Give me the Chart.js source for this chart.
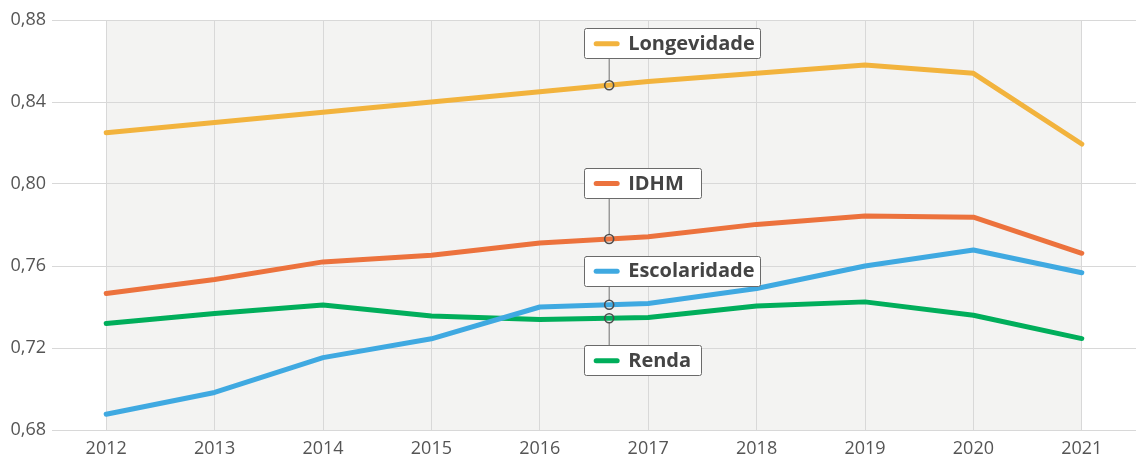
<!DOCTYPE html>
<html lang="pt">
<head>
<meta charset="utf-8">
<script src="https://cdn.jsdelivr.net/npm/chart.js@4/dist/chart.umd.min.js"></script>
<style>
  html, body { margin: 0; padding: 0; background: #fff; }
  #wrap { width: 1136px; height: 456px; position: relative; }
</style>
</head>
<body>
<div id="wrap"><canvas id="idhm"></canvas></div>
<script>
/* ---------- data ---------- */
const years = ['2012', '2013', '2014', '2015', '2016', '2017', '2018', '2019', '2020', '2021'];
const longevidade = [0.825, 0.830, 0.835, 0.840, 0.845, 0.850, 0.854, 0.858, 0.854, 0.8195];
const idhm = [0.7466, 0.7534, 0.762, 0.7652, 0.7712, 0.7743, 0.7803, 0.7844, 0.7838, 0.7662];
const escolaridade = [0.6877, 0.6983, 0.7153, 0.7245, 0.740, 0.7417, 0.749, 0.760, 0.7678, 0.7567];
const renda = [0.7319, 0.7368, 0.741, 0.7356, 0.7339, 0.7349, 0.7405, 0.7425, 0.736, 0.7246];
const yTicks = [0.68, 0.72, 0.76, 0.80, 0.84, 0.88];

/* hover marker sits between 2016 and 2017 */
const markerIndex = 4.64;

const FONT = "'Open Sans', 'Noto Sans', sans-serif";

const series = [
  { label: 'Longevidade', data: longevidade, color: '#f2b33d', boxTop: -57, boxW: 176 },
  { label: 'IDHM', data: idhm, color: '#ec723d', boxTop: -71, boxW: 117 },
  { label: 'Escolaridade', data: escolaridade, color: '#3fa9e1', boxTop: -49, boxW: 176 },
  { label: 'Renda', data: renda, color: '#00ae5b', boxTop: 27, boxW: 117 }
];

/* Plugin: grey band behind the years */
const bandPlugin = {
  id: 'band',
  beforeDraw(chart) {
    const { ctx, chartArea, scales } = chart;
    const x0 = scales.x.getPixelForValue(0);
    const x1 = scales.x.getPixelForValue(years.length - 1);
    ctx.save();
    ctx.fillStyle = '#f3f3f2';
    ctx.fillRect(x0, chartArea.top, x1 - x0, chartArea.bottom - chartArea.top);
    ctx.restore();
  }
};

/* Plugin: tooltip-like labels with markers */
const markerPlugin = {
  id: 'markers',
  afterDatasetsDraw(chart) {
    const { ctx, scales } = chart;
    const i0 = Math.floor(markerIndex), f = markerIndex - i0;
    const xa = scales.x.getPixelForValue(i0), xb = scales.x.getPixelForValue(i0 + 1);
    const px = xa + (xb - xa) * f;
    const boxH = 30;
    ctx.save();
    series.forEach(s => {
      const v = s.data[i0] + (s.data[i0 + 1] - s.data[i0]) * f;
      const py = scales.y.getPixelForValue(v);
      const top = py + s.boxTop;
      const left = px - 25;
      // connector
      ctx.strokeStyle = '#6f6f6f';
      ctx.lineWidth = 1;
      ctx.beginPath();
      if (s.boxTop < 0) { ctx.moveTo(px, top + boxH); ctx.lineTo(px, py - 4.5); }
      else { ctx.moveTo(px, py + 4.5); ctx.lineTo(px, top); }
      ctx.stroke();
      // circle
      ctx.lineWidth = 1.6;
      ctx.strokeStyle = '#4d4d4d';
      ctx.beginPath();
      ctx.arc(px, py, 4.5, 0, Math.PI * 2);
      ctx.stroke();
      // box
      ctx.fillStyle = '#ffffff';
      ctx.strokeStyle = '#6a6a6a';
      ctx.lineWidth = 1;
      ctx.beginPath();
      ctx.roundRect(Math.round(left) + 0.5, Math.round(top) + 0.5, s.boxW, boxH, 2);
      ctx.fill();
      ctx.stroke();
      // swatch
      ctx.strokeStyle = s.color;
      ctx.lineWidth = 5;
      ctx.lineCap = 'round';
      ctx.beginPath();
      ctx.moveTo(left + 12, top + boxH / 2 + 0.5);
      ctx.lineTo(left + 33, top + boxH / 2 + 0.5);
      ctx.stroke();
      // text
      ctx.fillStyle = '#444444';
      ctx.font = "bold 20px " + FONT;
      ctx.textBaseline = 'middle';
      ctx.textAlign = 'left';
      ctx.fillText(s.label, left + 44, top + boxH / 2 + 1);
    });
    ctx.restore();
  }
};

new Chart(document.getElementById('idhm'), {
  type: 'line',
  data: {
    labels: years,
    datasets: series.map(s => ({
      label: s.label,
      data: s.data,
      borderColor: s.color,
      backgroundColor: s.color,
      borderWidth: 5,
      borderCapStyle: 'round',
      borderJoinStyle: 'round',
      pointRadius: 0,
      tension: 0
    }))
  },
  options: {
    responsive: true,
    maintainAspectRatio: false,
    animation: false,
    layout: { padding: { top: 20, right: 0, bottom: 0, left: 0 } },
    plugins: { legend: { display: false }, tooltip: { enabled: false } },
    scales: {
      x: {
        offset: true,
        afterFit: scale => { scale.height = 26; },
        grid: { offset: false, color: '#d8d8d8', drawTicks: false },
        border: { display: false },
        ticks: { color: '#555', padding: 8, font: { family: FONT, size: 18 } }
      },
      y: {
        min: 0.68,
        max: 0.88,
        afterBuildTicks: scale => { scale.ticks = yTicks.map(v => ({ value: v })); },
        afterFit: scale => { scale.width = 52; },
        grid: { color: '#d8d8d8', drawTicks: false },
        border: { display: false },
        ticks: {
          color: '#555',
          padding: 6,
          font: { family: FONT, size: 18 },
          callback: v => v.toFixed(2).replace('.', ',')
        }
      }
    }
  },
  plugins: [bandPlugin, markerPlugin]
});
</script>
</body>
</html>
